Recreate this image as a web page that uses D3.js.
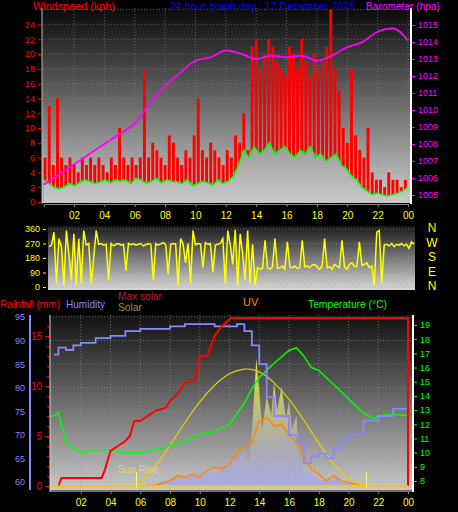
<!DOCTYPE html>
<html><head><meta charset="utf-8">
<script src="https://cdn.jsdelivr.net/npm/d3@7"></script>
<style>body{margin:0;background:#000}svg{display:block;font-family:Arial,"Liberation Sans",sans-serif}</style>
</head><body><svg id="c" width="458" height="512"></svg>
<script>
const hourTicks=[2,4,6,8,10,12,14,16,18,20,22,24];
const windTicks=[0,2,4,6,8,10,12,14,16,18,20,22,24,26];
const baroTicks=[1005,1006,1007,1008,1009,1010,1011,1012,1013,1014,1015,1016];
const dirTicks=[0,90,180,270,360];
const compass=["N","W","S","E","N"];
// wind gust every 20 min (72 values)
const windGust=[6,13,5,14,6,5,6,5,4,6,5,6,5,6,5,4,6,5,10,6,5,6,5,6,18,6,8,7,6,5,9,8,6,5,7,6,9,14,7,6,8,7,6,5,7,6,9,8,12,7,
 21,22,18,20,22,21,19,18,17,21,20,18,22,19,17,20,18,19,21,26,18,15,10,8,18,9,7,6,10,4,3,3,2,4,3,3,2,3];
const windAvg=[3,2.5,2,1.8,2,2.5,2.2,2.6,3,2.8,2.5,2.7,3,2.6,3,2.8,3,2.5,3.2,3,2.5,2.8,3.2,2.6,3,2.8,2.7,2.5,3,2.2,2.5,2.8,2.6,2.3,3,2.5,2.8,3.5,5,7,6,7.5,6.5,7,8,6.5,7,7.5,6.5,6,7,6.5,7.5,6,6.5,5.5,6,6.5,5,4.5,3.5,3,2,1.5,1,1.2,1,0.8,1,1.2,1.5,2];
const baroHours=[0,1,2,3,4,5,6,7,8,9,10,11,12,13,14,15,16,17,18,19,20,21,22,23,24];
const baro=[1005.6,1006.2,1006.8,1007.4,1008.0,1008.6,1009.2,1010.4,1011.4,1012.2,1012.9,1013.1,1013.5,1013.3,1013.0,1013.2,1013.1,1013.2,1012.9,1013.2,1013.7,1014.0,1014.6,1014.8,1014.1];
// wind direction every 10 min (145 values)
const windDir=[250,260,340,20,300,250,10,350,200,40,330,10,300,20,350,260,270,20,180,350,265,270,260,265,40,270,255,265,270,260,265,100,270,262,268,260,265,270,255,262,
 270,265,40,270,260,268,275,262,80,265,270,268,10,300,265,150,270,20,350,262,270,268,120,275,265,270,90,260,265,270,300,20,350,260,140,355,10,330,200,40,
 350,20,265,10,120,110,115,290,120,110,125,300,115,120,130,110,280,125,120,130,115,120,290,125,130,120,135,140,125,110,130,300,120,125,110,140,130,
 120,290,125,110,140,150,130,125,280,135,140,150,120,130,10,340,350,20,260,265,255,270,250,265,260,270,255,265,240,280,265];
const humHours=[0.2,0.5,1,1.5,2,3,4,5,6,7,8,9,10,11,12,12.5,13,13.5,14,14.5,15,16,16.5,17,17.5,18,18.5,19,19.5,20,21,22,23,24];
const humidity=[87,88.5,88,89,89.5,90.5,91,92,92.5,92.5,93,93.5,93.5,93,93,93.5,92,89,85,78,74,70,68.5,64,65.5,66,65,67,69,70,73,74,75.5,76.5];
const rainHours=[0.5,0.7,3.4,3.6,4,4.5,5,5.3,5.6,6,7,7.7,8,8.5,9,9.7,10,10.5,11,11.5,12.1,24,24];
const rain=[0,0.8,0.8,1.5,3.5,4.0,4.5,5,6.5,6.5,7.5,7.8,8.5,9.2,10.3,10.5,13,13,15,16,16.8,16.8,0];
const tempHours=[0,0.5,1,1.5,2,3,4,5,6,7,8,9,10,11,12,13,13.5,14,15,16,16.5,17,17.5,18,19,20,21,21.7,22,23,24];
const temperature=[12.5,12.8,10.8,10.3,10.0,10.2,10.2,10.0,10.0,10.2,10.5,10.8,11.3,11.5,12.0,13.5,14.5,15.3,16.3,17.2,17.4,16.8,16,15.8,14.8,13.8,12.8,12.4,12.6,12.7,12.6];
const maxSolarHours=[5.8,6,7,8,9,10,11,12,13,14,15,16,17,18,19,20,21.2];
const maxSolar=[0,5,40,85,135,180,215,240,250,245,220,185,140,90,45,12,0];
const solarHours=[6,6.5,7,7.5,8,8.5,9,9.5,10,10.5,11,11.5,12,12.5,13,13.3,13.5,13.8,14,14.2,14.5,14.8,15,15.2,15.5,15.8,16,16.2,16.5,16.7,17,17.5,18,18.5,19,19.5,20,21];
const solar=[0,2,5,10,15,25,20,25,30,35,25,40,60,55,70,40,110,270,200,120,190,150,220,160,210,140,180,120,150,50,30,25,15,10,20,8,5,0];
const uvHours=[0,6,7,8,8.5,9,9.5,10,10.5,11,11.5,12,12.5,13,13.5,14,14.5,15,15.5,16,16.5,17,17.5,18,18.5,19,19.5,20,21,24];
const uv=[0,0,0.05,0.3,0.6,0.5,0.7,0.5,0.9,1.1,1.0,1.3,2.0,2.3,2.5,3.8,4.0,3.5,3.6,3.0,2.5,1.8,1.0,0.7,0.3,0.6,0.3,0.2,0,0];

const svg=d3.select("#c");
const defs=svg.append("defs");
function grad(id,c1,c2){const g=defs.append("linearGradient").attr("id",id).attr("x1",0).attr("x2",0).attr("y1",0).attr("y2",1);
 g.append("stop").attr("offset","0%").attr("stop-color",c1);g.append("stop").attr("offset","100%").attr("stop-color",c2);}
grad("bg1","#0a0a0a","#d0d0d0");grad("bg2","#1a1a1a","#d8d8d8");grad("bg3","#111","#c8c8c8");
grad("wa","#9a9a9a","#c8c8c8");grad("sol","#ffff20","rgba(150,150,255,0.6)");
const txt=(x,y,t,c,a="start",s=11,len)=>{const e=svg.append("text").attr("x",x).attr("y",y).attr("fill",c).attr("font-size",s).attr("text-anchor",a).text(t);if(len)e.attr("textLength",len).attr("lengthAdjust","spacingAndGlyphs");return e;};

// ===== TOP =====
const x1=d3.scaleLinear().domain([0,24]).range([43.6,408]);
const yW=d3.scaleLinear().domain([0,26]).range([202,9.6]);
const yB=d3.scaleLinear().domain([1005,1015]).range([195,25]);
svg.append("rect").attr("x",42).attr("y",8).attr("width",368).attr("height",195).attr("fill","url(#bg1)");
const g1=svg.append("g");
windTicks.forEach(v=>g1.append("line").attr("x1",42).attr("x2",410).attr("y1",yW(v)).attr("y2",yW(v)).attr("stroke","#888").attr("stroke-dasharray","1,2").attr("stroke-width",0.6));
hourTicks.forEach(h=>g1.append("line").attr("x1",x1(h)).attr("x2",x1(h)).attr("y1",8).attr("y2",202).attr("stroke","#888").attr("stroke-dasharray","1,2").attr("stroke-width",0.6));
const dw=24/windGust.length;
g1.selectAll(".wg").data(windGust).join("rect").attr("x",(d,i)=>x1(i*dw)).attr("width",x1(dw)-x1(0)-1.2)
 .attr("y",d=>yW(d)).attr("height",d=>202-yW(d)).attr("fill","#ff0000");
const wa=windAvg.map((d,i)=>[i*24/(windAvg.length-1),d]);
g1.append("path").datum(wa).attr("d",d3.area().x(d=>x1(d[0])).y0(202).y1(d=>yW(d[1]))).attr("fill","url(#wa)");
g1.append("path").datum(wa).attr("d",d3.line().x(d=>x1(d[0])).y(d=>yW(d[1]))).attr("fill","none").attr("stroke","#00ff00").attr("stroke-width",1.5);
g1.append("path").datum(baro.map((b,i)=>[baroHours[i],b])).attr("d",d3.line().x(d=>x1(d[0])).y(d=>yB(d[1])).curve(d3.curveMonotoneX)).attr("fill","none").attr("stroke","#ff00ff").attr("stroke-width",1.8);
svg.append("line").attr("x1",42).attr("x2",42).attr("y1",8).attr("y2",204).attr("stroke","#bbb");
svg.append("line").attr("x1",411).attr("x2",411).attr("y1",8).attr("y2",204).attr("stroke","#fff").attr("stroke-width",2);
svg.append("g").attr("transform","translate(41,0)").call(d3.axisLeft(yW).tickValues(windTicks.filter(v=>v<26)).tickSize(3)).call(a=>{a.select(".domain").remove();a.selectAll("line").attr("stroke","#f00");a.selectAll("text").attr("fill","#f00").attr("font-size",9);});
svg.append("g").attr("transform","translate(412,0)").call(d3.axisRight(yB).tickValues(baroTicks.filter(v=>yB(v)>20)).tickSize(3).tickFormat(d3.format("d"))).call(a=>{a.select(".domain").remove();a.selectAll("line").attr("stroke","#f0f");a.selectAll("text").attr("fill","#f0f").attr("font-size",9);});
svg.append("g").attr("transform","translate(0,204)").call(d3.axisBottom(x1).tickValues(hourTicks).tickSize(3).tickFormat(h=>d3.format("02")(h%24))).call(a=>{a.select(".domain").attr("stroke","#888");a.selectAll("line").attr("stroke","#888");a.selectAll("text").attr("fill","#ff0").attr("font-size",10).attr("dy","0.9em");});
txt(33,10,"Windspeed (kph)","#f00","start",11,82);txt(170,10,"24 hour graph day : 17 December 2025","#0000ff","start",11,185);txt(366,10,"Barometer (hpa)","#ff00ff","start",11,74);

// ===== MIDDLE =====
const x2=d3.scaleLinear().domain([0,24]).range([49,414]);
const yD=d3.scaleLinear().domain([0,360]).range([287,229]);
svg.append("rect").attr("x",48).attr("y",226).attr("width",367).attr("height",64).attr("fill","url(#bg2)");
dirTicks.forEach(v=>svg.append("line").attr("x1",48).attr("x2",415).attr("y1",yD(v)).attr("y2",yD(v)).attr("stroke","#999").attr("stroke-dasharray","1,2").attr("stroke-width",0.6));
svg.append("path").datum(windDir).attr("d",d3.line().x((d,i)=>x2(i*24/(windDir.length-1))).y(d=>yD(d))).attr("fill","none").attr("stroke","#ffff00").attr("stroke-width",1.5);
svg.append("g").attr("transform","translate(46,0)").call(d3.axisLeft(yD).tickValues(dirTicks).tickSize(3)).call(a=>{a.select(".domain").remove();a.selectAll("line").attr("stroke","#ff0");a.selectAll("text").attr("fill","#ff0").attr("font-size",9);});
compass.forEach((c,i)=>txt(432,232+i*14.5,c,"#ffff00","middle",12));

// ===== BOTTOM =====
const x3=d3.scaleLinear().domain([0,24]).range([51,408]);
const yH=d3.scaleLinear().domain([60,95]).range([482,317]);
const yR=d3.scaleLinear().domain([0,15]).range([486,336]);
const yT=d3.scaleLinear().domain([8,19]).range([481,325]);
const yS=d3.scaleLinear().domain([0,362]).range([486,315]);
const yU=d3.scaleLinear().domain([0,10]).range([486,315]);
svg.append("rect").attr("x",50).attr("y",315).attr("width",363).attr("height",175).attr("fill","url(#bg3)");
yH.ticks(7).forEach(v=>svg.append("line").attr("x1",50).attr("x2",413).attr("y1",yH(v)).attr("y2",yH(v)).attr("stroke","#999").attr("stroke-dasharray","1,2").attr("stroke-width",0.6));
hourTicks.forEach(h=>svg.append("line").attr("x1",x3(h)).attr("x2",x3(h)).attr("y1",315).attr("y2",490).attr("stroke","#999").attr("stroke-dasharray","1,2").attr("stroke-width",0.6));
const pts=(hs,vs)=>vs.map((v,i)=>[hs[i],v]);
svg.append("path").datum(pts(solarHours,solar)).attr("d",d3.area().x(d=>x3(d[0])).y0(486).y1(d=>yS(d[1]))).attr("fill","url(#sol)").attr("opacity",0.9);
svg.append("path").datum(pts(uvHours,uv)).attr("d",d3.line().x(d=>x3(d[0])).y(d=>yU(d[1]))).attr("fill","none").attr("stroke","#ff8800").attr("stroke-width",1.5);
svg.append("path").datum(pts(maxSolarHours,maxSolar)).attr("d",d3.line().x(d=>x3(d[0])).y(d=>yS(d[1])).curve(d3.curveBasis)).attr("fill","none").attr("stroke","#e8d000").attr("stroke-width",1.2);
svg.append("path").datum(pts(tempHours,temperature)).attr("d",d3.line().x(d=>x3(d[0])).y(d=>yT(d[1]))).attr("fill","none").attr("stroke","#00ff00").attr("stroke-width",1.5);
svg.append("path").datum(pts(humHours,humidity)).attr("d",d3.line().x(d=>x3(d[0])).y(d=>yH(d[1])).curve(d3.curveStepAfter)).attr("fill","none").attr("stroke","#8888ff").attr("stroke-width",1.8);
svg.append("path").datum(pts(rainHours,rain)).attr("d",d3.line().x(d=>x3(d[0])).y(d=>yR(d[1]))).attr("fill","none").attr("stroke","#ff0000").attr("stroke-width",2);
svg.append("line").attr("x1",x3(0)).attr("x2",x3(24)).attr("y1",yR(0)).attr("y2",yR(0)).attr("stroke","#ffcc00").attr("stroke-width",1.5);
[5.75,21.2].forEach(h=>svg.append("line").attr("x1",x3(h)).attr("x2",x3(h)).attr("y1",472).attr("y2",488).attr("stroke","#ffff60"));
txt(118,473,"Sun Rise","#e0d870","start",10);
svg.append("line").attr("x1",50).attr("x2",50).attr("y1",315).attr("y2",492).attr("stroke","#ddd");
svg.append("line").attr("x1",413).attr("x2",413).attr("y1",315).attr("y2",492).attr("stroke","#fff").attr("stroke-width",2);
svg.append("line").attr("x1",50).attr("x2",413).attr("y1",491).attr("y2",491).attr("stroke","#ddd");
svg.append("g").attr("transform","translate(30,0)").call(d3.axisLeft(yH).tickValues([60,65,70,75,80,85,90,95]).tickSize(0)).call(a=>{a.select(".domain").attr("d","M0,315V490").attr("stroke","#8888ff").attr("stroke-width",2);a.selectAll("text").attr("fill","#8888ff").attr("font-size",9).attr("dx",-2);});
svg.append("g").attr("transform","translate(49,0)").call(d3.axisLeft(yR).tickValues([0,5,10,15]).tickSize(4)).call(a=>{a.select(".domain").remove();a.selectAll("line").attr("stroke","#f00");a.selectAll("text").attr("fill","#f00").attr("font-size",10);});
svg.append("g").attr("transform","translate(49,0)").call(d3.axisLeft(yR).tickValues(d3.range(0,17,1)).tickSize(2).tickFormat("")).call(a=>{a.select(".domain").remove();a.selectAll("line").attr("stroke","#f00");});
svg.append("g").attr("transform","translate(414,0)").call(d3.axisRight(yT).tickValues(d3.range(8,20)).tickSize(3)).call(a=>{a.select(".domain").remove();a.selectAll("line").attr("stroke","#0f0");a.selectAll("text").attr("fill","#0f0").attr("font-size",9);});
svg.append("g").attr("transform","translate(0,491)").call(d3.axisBottom(x3).tickValues(hourTicks).tickSize(3).tickFormat(h=>d3.format("02")(h%24))).call(a=>{a.select(".domain").remove();a.selectAll("line").attr("stroke","#888");a.selectAll("text").attr("fill","#ff0").attr("font-size",10).attr("dy","0.9em");});
txt(0,308,"Rainfall (mm)","#ff0000","start",11,60);txt(66,308,"Humidity","#8888ff","start",11,39);txt(118,300,"Max solar","#cc1040","start",11,44);txt(118,311,"Solar","#a09a20","start",11,24);
txt(243,306,"UV","#ff8800");txt(308,308,"Temperature (°C)","#00ff00","start",11,79);
</script></body></html>
